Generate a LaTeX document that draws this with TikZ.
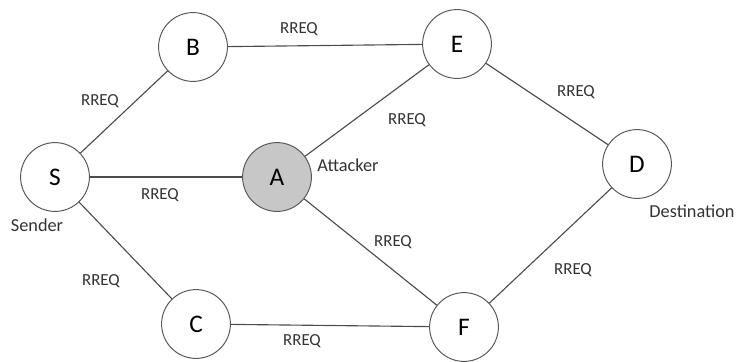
\documentclass[tikz,border=0pt]{standalone}
\usepackage{fontspec}
\setmainfont{Carlito}
\tikzset{
  peer/.style={circle,draw=black!65,line width=0.7pt,minimum size=1.72cm,inner sep=0pt,fill=white,font=\fontsize{18}{20}\selectfont},
  attacker/.style={peer,fill=black!22},
  link/.style={draw=black!70,line width=0.8pt},
  msg/.style={inner sep=1pt,text=black!80,font=\fontsize{12}{14}\selectfont},
  role/.style={inner sep=1pt,text=black!80,font=\fontsize{13}{15}\selectfont}
}
\begin{document}
\begin{tikzpicture}[x=0.025cm,y=-0.025cm]
\useasboundingbox (0,0) rectangle (738,362);

\node[peer] (S) at (55,177) {S};
\node[peer] (B) at (193,47) {B};
\node[peer] (E) at (457,44) {E};
\node[attacker] (A) at (277,177) {A};
\node[peer] (D) at (637,164) {D};
\node[peer] (C) at (196,324) {C};
\node[peer] (F) at (464,327) {F};

\draw[link] (S)--(B);
\draw[link] (S)--(A);
\draw[link] (S)--(C);
\draw[link] (B)--(E);
\draw[link] (A)--(E);
\draw[link] (A)--(F);
\draw[link] (C)--(F);
\draw[link] (E)--(D);
\draw[link] (F)--(D);

\node[role] (sender) at (37,225) {Sender};
\node[role] (attk) at (348,165) {Attacker};
\node[role] (dest) at (692,211) {Destination};

\node[msg] (mSB) at (100,101) {RREQ};
\node[msg] (mBE) at (299,29) {RREQ};
\node[msg] (mAE) at (407,120) {RREQ};
\node[msg] (mED) at (576,92) {RREQ};
\node[msg] (mSA) at (160,195) {RREQ};
\node[msg] (mAF) at (393,242) {RREQ};
\node[msg] (mFD) at (573,270) {RREQ};
\node[msg] (mSC) at (101,281) {RREQ};
\node[msg] (mCF) at (302,341) {RREQ};
\end{tikzpicture}
\end{document}
